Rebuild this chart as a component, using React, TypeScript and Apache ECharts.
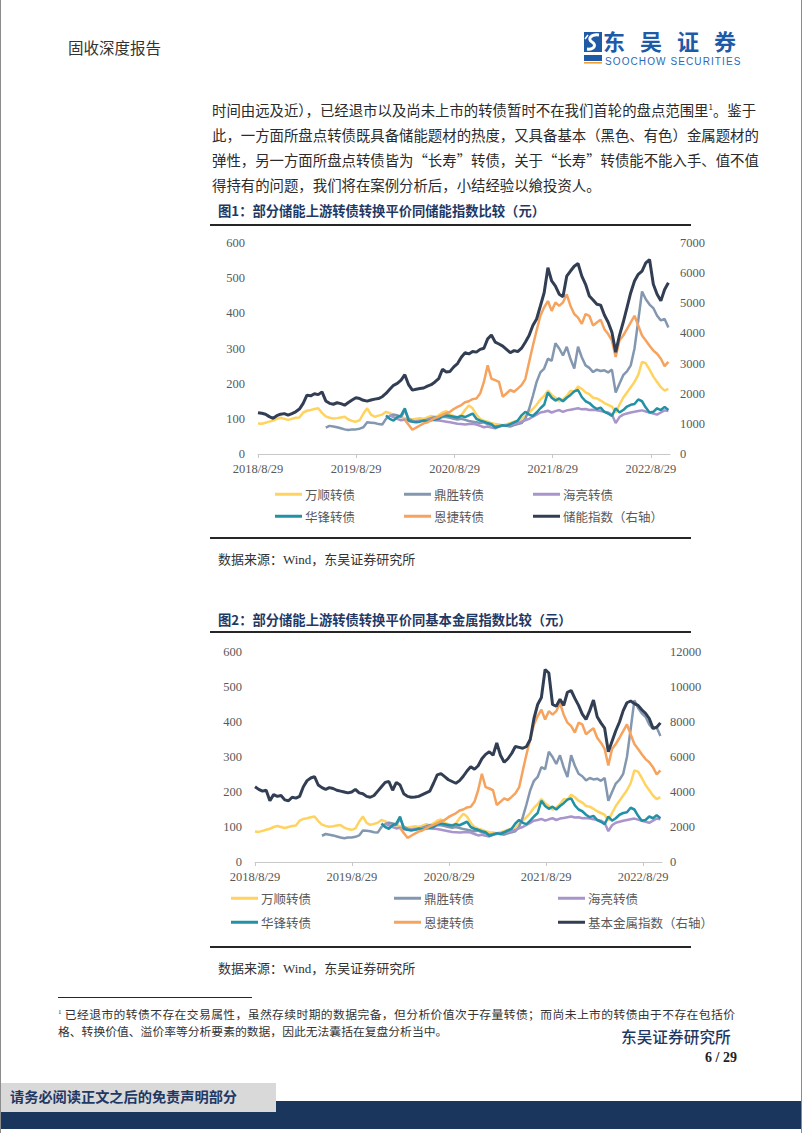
import React, { useEffect, useRef } from "react";
import * as echarts from "echarts";

// ---------- data ----------
const STEP_DAYS = 14; // sampling step of the series (days since 2018/8/29)
const N_POINTS = 110;
const DAYS = Array.from({ length: N_POINTS }, (_, i) => i * STEP_DAYS);

const TICK_DAYS = [0, 365, 731, 1096, 1461];
const TICK_LABELS = ["2018/8/29", "2019/8/29", "2020/8/29", "2021/8/29", "2022/8/29"];

const SERIES_NAMES = ["万顺转债", "鼎胜转债", "海亮转债", "华锋转债", "恩捷转债"];
const INDEX1_NAME = "储能指数（右轴）";
const INDEX2_NAME = "基本金属指数（右轴）";

const N = null;
const wanshun = [
  87, 86, 89, 92, 95, 100, 103, 100, 97, 100,
  103, 104, 118, 123, 125, 128, 130, 117, 107, 103,
  101, 102, 104, 106, 98, 94, 92, 96, 115, 130,
  112, 106, 109, 112, 120, 116, 112, 108, 105, 102,
  100, 98, 100, 102, 100, 104, 108, 105, 110, 118,
  122, 112, 108, 105, 110, 125, 138, 130, 112, 100,
  95, 92, 88, 85, 84, 82, 85, 88, 92, 95,
  100, 108, 118, 128, 140, 155, 165, 180, 168, 160,
  150, 155, 165, 180, 178, 192, 185, 175, 170, 160,
  158, 152, 145, 140, 135, 118, 140, 160, 175, 190,
  205, 225, 262, 258, 240, 220, 205, 190, 180, 185,
];
const dingsheng = [
  N, N, N, N, N, N, N, N, N, N,
  N, N, N, N, N, N, N, N, 75, 80,
  78, 76, 73, 70, 68, 70, 70, 72, 76, 90,
  89, 88, 85, 84, 100, 108, 112, 110, 105, 125,
  100, 95, 92, 93, 95, 98, 102, 105, 100, 106,
  105, 103, 100, 98, 100, 97, 94, 92, 90, 88,
  90, 85, 82, 78, 80, 82, 80, 78, 82, 85,
  88, 100, 128, 165, 205, 232, 243, 271, 265, 315,
  300, 280, 305, 270, 243, 305, 275, 252, 245, 233,
  240, 236, 238, 232, 240, 175, 200, 224, 235, 252,
  300, 380, 462, 440, 425, 415, 393, 380, 384, 360,
];
const hailiang = [
  N, N, N, N, N, N, N, N, N, N,
  N, N, N, N, N, N, N, N, N, N,
  N, N, N, N, N, N, N, N, N, N,
  N, N, N, N, N, 110, 105, 100, 96, 98,
  94, 92, 93, 95, 94, 96, 98, 96, 95, 94,
  92, 90, 88, 86, 85, 84, 85, 86, 84, 80,
  76, 78, 75, 73, 78, 80, 82, 84, 86, 88,
  92, 96, 100, 106, 112, 118, 120, 123, 118, 122,
  125, 120, 124, 126, 128, 130, 127, 128, 125, 126,
  124, 122, 120, 118, 112, 88, 105, 112, 115, 118,
  120, 122, 124, 121, 118, 115, 112, 118, 124, 122,
];
const huafeng = [
  N, N, N, N, N, N, N, N, N, N,
  N, N, N, N, N, N, N, N, N, N,
  N, N, N, N, N, N, N, N, N, N,
  N, N, N, N, 110, 100, 95, 105, 110, 130,
  95, 92, 90, 92, 95, 93, 96, 98, 100, 108,
  110, 108, 106, 104, 108, 105, 110, 115, 100, 95,
  92, 88, 85, 75, 78, 82, 80, 85, 90, 95,
  110, 120, 112, 108, 118, 130, 140, 175, 160, 152,
  158, 150, 160, 168, 178, 182, 162, 150, 145, 135,
  128, 132, 120, 115, 108, 130, 118, 125, 135, 140,
  142, 155, 150, 132, 118, 120, 130, 125, 134, 125,
];
const enjie = [
  N, N, N, N, N, N, N, N, N, N,
  N, N, N, N, N, N, N, N, N, N,
  N, N, N, N, N, N, N, N, N, N,
  N, N, N, N, N, N, N, N, N, 97,
  83, 69, 75, 81, 87, 90, 96, 102, 106, 111,
  116, 120, 128, 134, 139, 147, 150, 156, 158, 172,
  205, 252, 214, 210, 205, 163, 172, 182, 177, 186,
  196, 213, 261, 308, 351, 393, 417, 435, 407, 431,
  421, 431, 454, 421, 398, 388, 370, 398, 393, 365,
  374, 382, 355, 341, 323, 276, 323, 337, 355, 374,
  393, 365, 337, 323, 308, 294, 285, 271, 250, 262,
];
const chunengIndex = [
  1370, 1350, 1320, 1240, 1185, 1270, 1320, 1340, 1290, 1340,
  1400, 1490, 1680, 1950, 1930, 2000, 1970, 2060, 1760, 1680,
  1650, 1700, 1670, 1620, 1710, 1790, 1865, 1840, 1780, 1755,
  1790, 1820, 1840, 1900, 2010, 2150, 2280, 2340, 2450, 2630,
  2300, 2120, 2150, 2170, 2190, 2250, 2300, 2390, 2500, 2810,
  2720, 2740, 2890, 3000, 3210, 3360, 3320, 3400, 3380, 3470,
  3510, 3820, 3950, 3710, 3650, 3580, 3470, 3360, 3430, 3400,
  3510, 3710, 3930, 4260, 4480, 4910, 5350, 6180, 5740, 5570,
  5300, 5220, 5900, 6070, 6230, 6320, 5900, 5630, 5240, 5110,
  4970, 4940, 4610, 4370, 4040, 3380, 3930, 4370, 4860, 5350,
  5740, 5960, 6070, 6340, 6450, 5630, 5300, 5080, 5460, 5680,
];
const metalIndex = [
  4300, 4150, 4050, 4100, 3500, 3850, 3750, 3800, 3550, 3500,
  3700, 3650, 3750, 4300, 4650, 4800, 4880, 4400, 4250, 4150,
  4250, 4200, 4100, 4050, 4000, 3950, 4000, 4150, 3950, 3900,
  3750, 3700, 3800, 4050, 4300, 4550, 4600, 4100, 4550, 4400,
  3900, 3750, 3700, 3720, 3750, 3850, 3950, 4050, 4500, 4980,
  5050, 4880, 4700, 4600, 4500, 4650, 4900, 5200, 5450, 5300,
  5500, 5900, 6150, 6300, 6100, 6800, 6100, 5700, 5900, 6200,
  6600, 6550, 6500, 6600, 7000, 8200, 9000, 9400, 11000, 10800,
  9000, 8900, 9300, 8950, 9700, 9800, 9350, 8950, 8450, 8150,
  8650, 9250, 8300, 7950, 7650, 6300, 6900, 7500, 8000, 8650,
  9100, 9200, 9050, 8950, 8700, 8500, 8200, 7650, 7700, 7950,
];

const BONDS = [wanshun, dingsheng, hailiang, huafeng, enjie];
const BOND_COLORS = ["#FFD35E", "#8497B0", "#A995CB", "#2192A5", "#F6A35E"];
const INDEX_COLOR = "#323E53";

// ---------- styling ----------
const SERIF = "'Liberation Serif', 'Noto Sans CJK SC', serif";
const CJK = "'Noto Sans CJK SC', sans-serif";
const AXIS_GRAY = "#595959";

function toPoints(values: (number | null)[]) {
  const pts: [number, number][] = [];
  values.forEach((v, i) => {
    if (v != null) pts.push([DAYS[i], v]);
  });
  return pts;
}

function xLabel(v: number) {
  for (let k = 0; k < TICK_DAYS.length; k++) {
    if (Math.abs(TICK_DAYS[k] - v) < 2) return TICK_LABELS[k];
  }
  return "";
}

function makeX(gridIndex: number) {
  return {
    type: "value",
    gridIndex,
    min: 0,
    max: 1532,
    interval: 365.25,
    axisLine: { show: true, lineStyle: { color: "#C8C8C8", width: 1 } },
    axisTick: {
      show: true,
      length: 4,
      customValues: TICK_DAYS,
      lineStyle: { color: "#C8C8C8" },
    },
    axisLabel: {
      customValues: TICK_DAYS,
      formatter: xLabel,
      margin: 9,
      fontSize: 12.5,
      color: AXIS_GRAY,
      fontFamily: SERIF,
    },
    splitLine: { show: false },
  };
}

function makeY(gridIndex: number, max: number, interval: number, position: string, margin: number) {
  return {
    type: "value",
    gridIndex,
    min: 0,
    max,
    interval,
    position,
    axisLine: { show: false },
    axisTick: { show: false },
    splitLine: { show: false },
    axisLabel: {
      margin,
      fontSize: 12.5,
      color: AXIS_GRAY,
      fontFamily: SERIF,
      formatter: (v: number) => String(v),
    },
  };
}

function legendItem(name: string, left: number, top: number) {
  return {
    data: [name],
    left,
    top,
    padding: 0,
    itemWidth: 27,
    itemHeight: 3,
    icon: "rect",
    selectedMode: false,
    textStyle: { fontSize: 12.5, color: "#595959", fontFamily: CJK, padding: [0, 0, 0, -2] },
  };
}

function buildOption() {
  const series: any[] = [];
  [0, 1].forEach((g) => {
    BONDS.forEach((vals, k) => {
      series.push({
        type: "line",
        name: SERIES_NAMES[k],
        xAxisIndex: g,
        yAxisIndex: g * 2,
        data: toPoints(vals),
        showSymbol: false,
        symbol: "none",
        color: BOND_COLORS[k],
        lineStyle: { width: 2.5, color: BOND_COLORS[k] },
        z: 2 + k,
      });
    });
    series.push({
      type: "line",
      name: g === 0 ? INDEX1_NAME : INDEX2_NAME,
      xAxisIndex: g,
      yAxisIndex: g * 2 + 1,
      data: toPoints(g === 0 ? chunengIndex : metalIndex),
      showSymbol: false,
      symbol: "none",
      color: INDEX_COLOR,
      lineStyle: { width: 3, color: INDEX_COLOR },
      z: 10,
    });
  });

  const names1 = [...SERIES_NAMES, INDEX1_NAME];
  const names2 = [...SERIES_NAMES, INDEX2_NAME];
  const cols1 = [275, 404, 533];
  const rows1 = [488, 510];
  const cols2 = [231, 394, 558];
  const rows2 = [892, 916];
  const legends: any[] = [];
  names1.forEach((nm, j) => {
    legends.push(legendItem(nm, cols1[j % 3], rows1[Math.floor(j / 3)]));
  });
  names2.forEach((nm, j) => {
    legends.push(legendItem(nm, cols2[j % 3], rows2[Math.floor(j / 3)]));
  });

  return {
    animation: false,
    backgroundColor: "transparent",
    grid: [
      { left: 258, top: 243, width: 412, height: 211 },
      { left: 255, top: 652, width: 407, height: 210 },
    ],
    xAxis: [makeX(0), makeX(1)],
    yAxis: [
      makeY(0, 600, 100, "left", 13),
      makeY(0, 7000, 1000, "right", 10),
      makeY(1, 600, 100, "left", 13),
      makeY(1, 12000, 2000, "right", 8),
    ],
    legend: legends,
    series,
  };
}

// ---------- page text helpers ----------
function Txt(props: {
  x: number;
  y: number;
  size: number;
  children: any;
  color?: string;
  weight?: number | string;
  family?: string;
  width?: number;
  justify?: boolean;
  spacing?: number;
  z?: number;
  lhf?: number;
}) {
  const lh = Math.round(props.size * (props.lhf || 1.25));
  return (
    <div
      style={{
        position: "absolute",
        left: props.x,
        top: props.y - lh / 2,
        lineHeight: lh + "px",
        height: lh,
        fontSize: props.size,
        color: props.color || "#262626",
        fontWeight: props.weight || 400,
        fontFamily: props.family || SERIF,
        whiteSpace: "nowrap",
        width: props.width,
        textAlign: props.justify ? "justify" : "left",
        textAlignLast: props.justify ? "justify" : "auto",
        letterSpacing: props.spacing ? props.spacing + "px" : undefined,
        zIndex: props.z || 5,
      } as any}
    >
      {props.children}
    </div>
  );
}

function Rule(props: { x: number; y: number; w: number; h: number; color: string; z?: number }) {
  return (
    <div
      style={{
        position: "absolute",
        left: props.x,
        top: props.y,
        width: props.w,
        height: props.h,
        background: props.color,
        zIndex: props.z || 4,
      }}
    />
  );
}

function LogoIcon() {
  return (
    <svg
      width={20}
      height={36}
      viewBox="0 0 20 36"
      style={{ position: "absolute", left: 583, top: 31, zIndex: 5 }}
    >
      <rect x={1} y={1} width={18} height={20} fill="#1F5AA6" />
      <path
        d="M16 4 C 8 3, 4 8, 9 11 C 14 14, 11 19, 4 18"
        stroke="#FFFFFF"
        strokeWidth={3}
        fill="none"
      />
      <path d="M5 4 L 2 8" stroke="#FFFFFF" strokeWidth={1.5} />
      <rect x={1} y={24} width={18} height={6} fill="#1F5AA6" />
      <rect x={1} y={31} width={18} height={1.6} fill="#F0A030" />
    </svg>
  );
}

export default function App() {
  const ref = useRef<HTMLDivElement>(null);

  useEffect(() => {
    if (!ref.current) return;
    const chart = echarts.init(ref.current, undefined, { renderer: "svg" });
    chart.setOption(buildOption() as any);
    return () => chart.dispose();
  }, []);

  const bodyColor = "#2B2B2B";
  const navy = "#1F3864";

  return (
    <div
      style={{
        position: "absolute",
        left: 0,
        top: 0,
        width: 802,
        height: 1133,
        background: "#FFFFFF",
        overflow: "hidden",
      }}
    >
      <div ref={ref} style={{ position: "absolute", left: 0, top: 0, width: 802, height: 1133, zIndex: 1 }} />

      {/* page border */}
      <Rule x={0} y={0} w={1} h={1133} color="#8C8C8C" z={6} />
      <Rule x={801} y={0} w={1} h={1133} color="#8C8C8C" z={6} />

      {/* header */}
      <Txt x={68} y={47} size={15.5} color="#333333" family={CJK}>
        固收深度报告
      </Txt>
      <LogoIcon />
      <Txt x={603} y={40} size={22} color="#1F5AA6" weight={700} family={CJK} spacing={15} lhf={1}>
        东吴证券
      </Txt>
      <Txt x={605} y={62} size={10} color="#2A6AB5" family="'Liberation Sans', sans-serif" spacing={1.1} lhf={1}>
        SOOCHOW SECURITIES
      </Txt>

      {/* paragraph */}
      <Txt x={212} y={110} size={14.4} color={bodyColor} family={CJK} width={533} justify>
        时间由远及近），已经退市以及尚未上市的转债暂时不在我们首轮的盘点范围里
        <sup style={{ fontSize: 8, lineHeight: 0 }}>1</sup>。鉴于
      </Txt>
      <Txt x={212} y={135} size={14.4} color={bodyColor} family={CJK} width={533} justify>
        此，一方面所盘点转债既具备储能题材的热度，又具备基本（黑色、有色）金属题材的
      </Txt>
      <Txt x={212} y={160} size={14.4} color={bodyColor} family={CJK} width={533} justify>
        弹性，另一方面所盘点转债皆为“长寿”转债，关于“长寿”转债能不能入手、值不值
      </Txt>
      <Txt x={212} y={185} size={14.4} color={bodyColor} family={CJK}>
        得持有的问题，我们将在案例分析后，小结经验以飨投资人。
      </Txt>

      {/* figure 1 */}
      <Txt x={218} y={210} size={13.3} color={navy} weight={700} family={CJK}>
        图1：部分储能上游转债转换平价同储能指数比较（元）
      </Txt>
      <Rule x={210} y={224} w={481} h={1.5} color="#262626" />
      <Rule x={210} y={537} w={481} h={1.5} color="#262626" />
      <Txt x={218} y={560} size={13} color="#333333" family={SERIF}>
        数据来源：Wind，东吴证券研究所
      </Txt>

      {/* figure 2 */}
      <Txt x={218} y={619} size={13.3} color={navy} weight={700} family={CJK}>
        图2：部分储能上游转债转换平价同基本金属指数比较（元）
      </Txt>
      <Rule x={210} y={631} w={481} h={1.5} color="#262626" />
      <Rule x={210} y={946} w={481} h={1.5} color="#262626" />
      <Txt x={218} y={969} size={13} color="#333333" family={SERIF}>
        数据来源：Wind，东吴证券研究所
      </Txt>

      {/* footnote */}
      <Rule x={58} y={997} w={194} h={1} color="#262626" />
      <Txt x={58} y={1015} size={11.8} color="#333333" family={SERIF} width={677} justify>
        <sup style={{ fontSize: 7, lineHeight: 0 }}>1</sup> 已经退市的转债不存在交易属性，虽然存续时期的数据完备，但分析价值次于存量转债；而尚未上市的转债由于不存在包括价
      </Txt>
      <Txt x={58} y={1032} size={11.8} color="#333333" family={SERIF}>
        格、转换价值、溢价率等分析要素的数据，因此无法囊括在复盘分析当中。
      </Txt>
      <Txt x={621} y={1037} size={15.7} color={navy} weight={500} family={CJK}>
        东吴证券研究所
      </Txt>
      <Txt x={705} y={1058} size={14} color="#222222" weight={700} family={SERIF}>
        6 / 29
      </Txt>

      {/* footer bars */}
      <Rule x={0} y={1101} w={802} h={28} color="#1B365D" z={4} />
      <Rule x={0} y={1083} w={276} h={29} color="#D9D9D9" z={5} />
      <Txt x={10} y={1096} size={14.2} color={navy} weight={700} family={CJK} z={7}>
        请务必阅读正文之后的免责声明部分
      </Txt>
    </div>
  );
}
